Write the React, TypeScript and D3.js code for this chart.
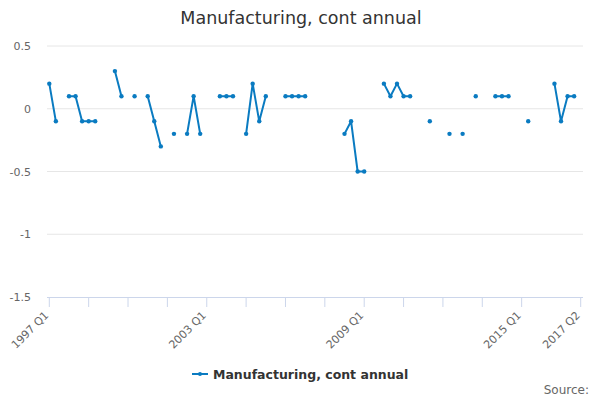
import React from "react";
import * as d3 from "d3";

const title = "Manufacturing, cont annual";
const seriesName = "Manufacturing, cont annual";
const startYear = 1997;
const quarterCount = 82;
const categories: string[] = [];
for (let i = 0; i < quarterCount; i++) {
  categories.push(`${startYear + Math.floor(i / 4)} Q${(i % 4) + 1}`);
}
const values: (number | null)[] = [
  0.2, -0.1, null, 0.1, 0.1, -0.1, -0.1, -0.1, null, null,
  0.3, 0.1, null, 0.1, null, 0.1, -0.1, -0.3, null, -0.2,
  null, -0.2, 0.1, -0.2, null, null, 0.1, 0.1, 0.1, null,
  -0.2, 0.2, -0.1, 0.1, null, null, 0.1, 0.1, 0.1, 0.1,
  null, null, null, null, null, -0.2, -0.1, -0.5, -0.5, null,
  null, 0.2, 0.1, 0.2, 0.1, 0.1, null, null, -0.1, null,
  null, -0.2, null, -0.2, null, 0.1, null, null, 0.1, 0.1,
  0.1, null, null, -0.1, null, null, null, 0.2, -0.1, 0.1,
  0.1, null,
];
const yTicks = [0.5, 0, -0.5, -1, -1.5];
const yTickLabels = ["0.5", "0", "-0.5", "-1", "-1.5"];
const xTickLabels = ["1997 Q1", "2003 Q1", "2009 Q1", "2015 Q1", "2017 Q2"];
const xTickMarks = [
  "1997 Q1", "1998 Q3", "2000 Q1", "2001 Q3", "2003 Q1", "2004 Q3", "2006 Q1",
  "2007 Q3", "2009 Q1", "2010 Q3", "2012 Q1", "2013 Q3", "2015 Q1", "2017 Q2",
];

const W = 600;
const H = 400;
const COLOR = "#0a7bc1";
const FONT = "'DejaVu Sans', sans-serif";

export default function App() {
  const x = d3.scaleLinear().domain([0, categories.length - 1]).range([49.3, 580.7]);
  const y = d3.scaleLinear().domain([-1.5, 0.5]).range([297, 46]);
  const line = d3
    .line<number | null>()
    .defined((d) => d !== null)
    .x((_, i) => x(i))
    .y((d) => y(d as number));
  const axisY = y(-1.5);
  return (
    <svg width={W} height={H} style={{ position: "absolute", left: 0, top: 0, fontFamily: FONT }}>
      <rect width={W} height={H} fill="#fff" />
      <text x={301} y={24} textAnchor="middle" fontSize={17.5} fill="#333">
        {title}
      </text>
      {yTicks.map((t, i) => (
        <g key={t}>
          {t !== -1.5 && (
            <line x1={47} x2={583} y1={y(t)} y2={y(t)} stroke="#e6e6e6" strokeWidth={1} />
          )}
          <text x={31} y={y(t) + 4} textAnchor="end" fontSize={11} fill="#666">
            {yTickLabels[i]}
          </text>
        </g>
      ))}
      <line x1={47} x2={583} y1={axisY + 0.5} y2={axisY + 0.5} stroke="#ccd6eb" strokeWidth={1} />
      {xTickMarks.map((c) => {
        const xi = x(categories.indexOf(c));
        return <line key={c} x1={xi} x2={xi} y1={axisY} y2={axisY + 10} stroke="#ccd6eb" strokeWidth={1} />;
      })}
      {xTickLabels.map((c) => {
        const xi = x(categories.indexOf(c));
        return (
          <text
            key={c}
            transform={`translate(${xi},${axisY + 19}) rotate(-45)`}
            textAnchor="end"
            fontSize={11}
            fill="#666"
          >
            {c}
          </text>
        );
      })}
      <path d={line(values) || ""} fill="none" stroke={COLOR} strokeWidth={2} strokeLinejoin="round" />
      {values.map((v, i) =>
        v === null ? null : <circle key={i} cx={x(i)} cy={y(v)} r={2.2} fill={COLOR} />
      )}
      <line x1={192} x2={208} y1={374} y2={374} stroke={COLOR} strokeWidth={2} />
      <circle cx={200} cy={374} r={2} fill={COLOR} />
      <text x={213} y={378.5} fontSize={12.5} fontWeight="bold" fill="#333">
        {seriesName}
      </text>
      <text x={589} y={393.5} textAnchor="end" fontSize={12} fill="#666">
        Source:
      </text>
    </svg>
  );
}
